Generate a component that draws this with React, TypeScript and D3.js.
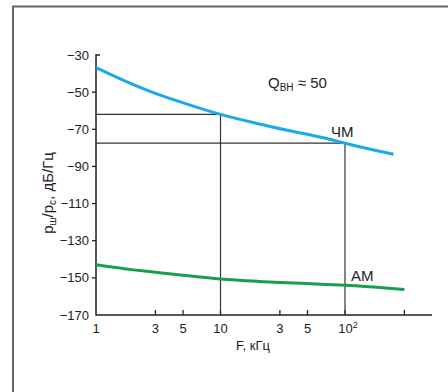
import { useEffect, useRef } from 'react'
import * as d3 from 'd3'

// ЧМ (FM) curve, F in kHz -> dB/Hz
const fmF = [1, 1.65, 3, 5.7, 10, 20, 36, 67, 100, 245]
const fmDb = [-36.8, -43.5, -50.7, -57.0, -62, -67.0, -70.8, -74.6, -77.5, -83.5]
// АМ curve
const amF = [1, 2, 3, 5, 10, 20, 30, 50, 100, 200, 300]
const amDb = [-143, -145.7, -147, -148.6, -150.6, -151.9, -152.5, -153.1, -154, -155.3, -156.3]

const yTicks = [-30, -50, -70, -90, -110, -130, -150, -170]
const xTicks = [1, 3, 5, 10, 30, 50, 100, 300]
const xTickLabels = ['1', '3', '5', '10', '3', '5', '10²', '']
// reference guides: F = 10 and F = 100 kHz
const guideF = [10, 100]

const FONT = "'Liberation Sans', Arial, sans-serif"

export default function App() {
  const svgRef = useRef<SVGSVGElement>(null)
  const W = 448, H = 392

  useEffect(() => {
    const svg = d3.select(svgRef.current)
    svg.selectAll('*').remove()

    // frame (runs off the right/bottom edges)
    svg.append('path').attr('d', `M13,${H + 2} L13,6.5 L${W + 2},6.5`)
      .attr('fill', 'none').attr('stroke', '#666').attr('stroke-width', 2)

    const x = d3.scaleLog().domain([1, 100]).range([96, 345])
    const y = d3.scaleLinear().domain([-170, -30]).range([315, 55])
    const xEnd = 432

    const g = svg.append('g')

    // axes lines
    g.append('path').attr('d', `M100,${y(-30)} H96 V${y(-170)} H${xEnd}`)
      .attr('fill', 'none').attr('stroke', '#222').attr('stroke-width', 1.5)

    // y ticks
    yTicks.forEach(v => {
      if (v !== -30 && v !== -170)
        g.append('line').attr('x1', 92).attr('x2', 96).attr('y1', y(v)).attr('y2', y(v))
          .attr('stroke', '#222').attr('stroke-width', 1.3)
      g.append('text').attr('x', 89).attr('y', y(v)).attr('dy', '0.35em')
        .attr('text-anchor', 'end').attr('font-family', FONT).attr('font-size', 13).attr('fill', '#222')
        .text(`\u2212${Math.abs(v)}`)
    })

    // x ticks
    xTicks.forEach((v, i) => {
      if (v !== 1)
        g.append('line').attr('x1', x(v)).attr('x2', x(v)).attr('y1', y(-170)).attr('y2', y(-170) - 5)
          .attr('stroke', '#222').attr('stroke-width', 1.3)
      const lab = xTickLabels[i]
      if (!lab) return
      const t = g.append('text').attr('x', x(v)).attr('y', 333)
        .attr('text-anchor', 'middle').attr('font-family', FONT).attr('font-size', 13).attr('fill', '#222')
      if (lab === '10²') {
        t.attr('x', x(v) + 3)
        t.append('tspan').text('10')
        t.append('tspan').attr('font-size', 9).attr('dy', -5).text('2')
      } else t.text(lab)
    })

    // guide lines
    guideF.forEach(f => {
      const fi = fmF.indexOf(f)
      const yy = y(fmDb[fi])
      g.append('line').attr('x1', 96).attr('x2', x(f)).attr('y1', yy).attr('y2', yy)
        .attr('stroke', '#333').attr('stroke-width', 1.2)
      g.append('line').attr('x1', x(f)).attr('x2', x(f)).attr('y1', yy).attr('y2', y(-170))
        .attr('stroke', '#333').attr('stroke-width', 1.2)
    })

    const line = d3.line<[number, number]>().x(d => x(d[0])).y(d => y(d[1])).curve(d3.curveMonotoneX)
    g.append('path').datum(fmF.map((f, i) => [f, fmDb[i]] as [number, number]))
      .attr('d', line).attr('fill', 'none').attr('stroke', '#1ba9e8').attr('stroke-width', 3)
    g.append('path').datum(amF.map((f, i) => [f, amDb[i]] as [number, number]))
      .attr('d', line).attr('fill', 'none').attr('stroke', '#17a04c').attr('stroke-width', 3)

    // annotations
    const q = g.append('text').attr('x', 268).attr('y', 88).attr('font-family', FONT).attr('font-size', 15).attr('fill', '#222')
    q.append('tspan').text('Q')
    q.append('tspan').attr('font-size', 10).attr('dy', 3).text('ВН')
    q.append('tspan').attr('dy', -3).text(' \u2248 50')

    g.append('text').attr('x', 331).attr('y', 137).attr('font-family', FONT).attr('font-size', 15).attr('fill', '#222').text('ЧМ')
    g.append('text').attr('x', 351).attr('y', 281).attr('font-family', FONT).attr('font-size', 15).attr('fill', '#222').text('АМ')

    g.append('text').attr('x', 253).attr('y', 350).attr('text-anchor', 'middle')
      .attr('font-family', FONT).attr('font-size', 13).attr('fill', '#222').text('F, кГц')

    const yl = g.append('text').attr('transform', `translate(53,${193}) rotate(-90)`).attr('text-anchor', 'middle')
      .attr('font-family', FONT).attr('font-size', 15).attr('fill', '#222')
    yl.append('tspan').text('p')
    yl.append('tspan').attr('font-size', 10).attr('dy', 3).text('ш')
    yl.append('tspan').attr('dy', -3).text('/p')
    yl.append('tspan').attr('font-size', 10).attr('dy', 3).text('с')
    yl.append('tspan').attr('dy', -3).text(', дБ/Гц')
  }, [])

  return (
    <div style={{ position: 'fixed', left: 0, top: 0, width: W, height: H, background: '#fff' }}>
      <svg ref={svgRef} width={W} height={H} style={{ display: 'block' }} />
    </div>
  )
}
